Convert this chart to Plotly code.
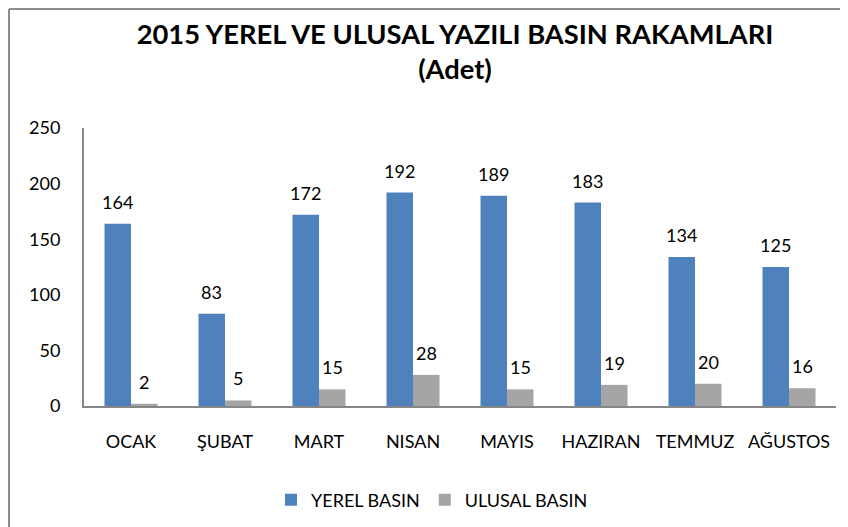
import plotly.graph_objs as go

months = ['OCAK', 'ŞUBAT', 'MART', 'NISAN', 'MAYIS', 'HAZIRAN', 'TEMMUZ', 'AĞUSTOS']
yerel = [164, 83, 172, 192, 189, 183, 134, 125]
ulusal = [2, 5, 15, 28, 15, 19, 20, 16]
y_ticks = [0, 50, 100, 150, 200, 250]

FONT = 'Lato'
blue = '#4F81BD'
gray = '#A5A5A5'
axis_color = '#868686'

# page body has an 8px margin, so the figure is shrunk and laid out in
# window pixels minus 8
OFF = 8
W, H = 848 - OFF, 527 - OFF
# plot area in window pixels: left 84, right 836, top 128, bottom 406
L, R, T, B = 84 - OFF, W - (836 - OFF), 128 - OFF, H - (406 - OFF)
pw, ph = W - L - R, H - T - B

def px_x(x):
    return (x - OFF - L) / pw

def px_y(y):
    return (H - B - (y - OFF)) / ph

BAR_HALF = pw / len(months) * (1 - 0.436) / 4

def GetBar(values, name, color):
    return go.Bar(x=months, y=values, name=name,
                  marker=dict(color=color, line=dict(width=0)),
                  hoverinfo='x+y+name')

def GetLabels(values, xshift):
    return [dict(x=m, y=v, text=str(v), showarrow=False, xref='x', yref='y',
                 xshift=xshift, yshift=9, yanchor='bottom',
                 font=dict(family=FONT, size=18, color='#000000'))
            for m, v in zip(months, values)]

fig = go.Figure([GetBar(yerel, 'YEREL BASIN', blue),
                 GetBar(ulusal, 'ULUSAL BASIN', gray)])

fig.update_layout(
    width=W, height=H,
    margin=dict(l=L, r=R, t=T, b=B, autoexpand=False),
    paper_bgcolor='white', plot_bgcolor='white',
    barmode='group', bargap=0.436, bargroupgap=0,
    font=dict(family=FONT, size=18, color='#000000'),
    title=dict(text='<b>2015 YEREL VE ULUSAL YAZILI BASIN RAKAMLARI<br>(Adet)</b>',
               x=(455 - OFF) / W, xref='container', xanchor='center',
               y=1 - (44 - OFF) / H, yref='container', yanchor='middle',
               font=dict(family=FONT, size=27.3, color='#000000')),
    legend=dict(orientation='h', x=px_x(432), xanchor='center',
                y=px_y(500), yanchor='middle',
                font=dict(family=FONT, size=18), itemwidth=30,
                traceorder='normal'),
    xaxis=dict(showline=True, linecolor=axis_color, linewidth=2,
               ticks='', ticklabelstandoff=18, automargin=False,
               tickfont=dict(family=FONT, size=18)),
    yaxis=dict(range=[0, 250], tickvals=y_ticks, showgrid=False,
               zeroline=False, showline=True, linecolor=axis_color, linewidth=2,
               ticks='', ticklabelstandoff=18, automargin=False,
               tickfont=dict(family=FONT, size=18)),
    annotations=GetLabels(yerel, -BAR_HALF) + GetLabels(ulusal, BAR_HALF),
    shapes=[
        dict(type='line', xref='paper', yref='paper',
             x0=px_x(OFF + 1), x1=px_x(OFF + 1), y0=px_y(OFF + 1), y1=px_y(560),
             line=dict(color='#8C8C8C', width=2)),
        dict(type='line', xref='paper', yref='paper',
             x0=px_x(OFF + 1), x1=px_x(880), y0=px_y(OFF + 1), y1=px_y(OFF + 1),
             line=dict(color='#8C8C8C', width=2)),
    ],
)

fig.write_html('out.html')
